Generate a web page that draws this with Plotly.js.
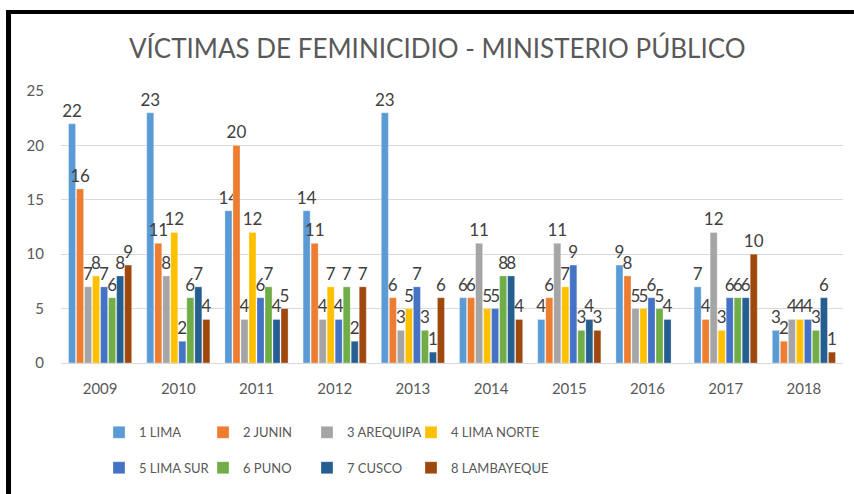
<!DOCTYPE html>
<html>
<head>
<meta charset="utf-8">
<script src="https://cdn.plot.ly/plotly-3.0.1.min.js"></script>
<style>html,body{margin:0;padding:0;background:#fff;overflow:hidden;}#chart{width:854px;height:494px;overflow:hidden;}</style>
</head>
<body>
<div id="chart"></div>
<script>
const years = ['2009','2010','2011','2012','2013','2014','2015','2016','2017','2018'];
const seriesNames = ['1 LIMA','2 JUNIN','3 AREQUIPA','4 LIMA NORTE','5 LIMA SUR','6 PUNO','7 CUSCO','8 LAMBAYEQUE'];
const lima        = [22, 23, 14, 14, 23, 6, 4, 9, 7, 3];
const junin       = [16, 11, 20, 11, 6, 6, 6, 8, 4, 2];
const arequipa    = [7, 8, 4, 4, 3, 11, 11, 5, 12, 4];
const limaNorte   = [8, 12, 12, 7, 5, 5, 7, 5, 3, 4];
const limaSur     = [7, 2, 6, 4, 7, 5, 9, 6, 6, 4];
const puno        = [6, 6, 7, 7, 3, 8, 3, 5, 6, 3];
const cusco       = [8, 7, 4, 2, 1, 8, 4, 4, 6, 6];
const lambayeque  = [9, 4, 5, 7, 6, 4, 3, null, 10, 1];
const colors = ['#5B9BD5','#ED7D31','#A5A5A5','#FFC000','#4472C4','#70AD47','#255E91','#9E480E'];

const allSeries = [lima, junin, arequipa, limaNorte, limaSur, puno, cusco, lambayeque];
const FONT = 'Lato, "Open Sans", sans-serif';

const traces = allSeries.map((vals, i) => ({
  type: 'bar',
  name: seriesNames[i],
  x: years,
  y: vals,
  text: vals.map(v => v === null ? '' : String(v)),
  textposition: 'outside',
  constraintext: 'none',
  cliponaxis: false,
  textfont: {family: FONT, size: 17, color: '#404040'},
  marker: {color: colors[i], line: {color: 'rgba(255,255,255,0.6)', width: 0.5}},
  legend: i < 4 ? 'legend' : 'legend2',
  hoverinfo: 'x+y+name'
}));

// invisible spacer entries so the last legend column is not clipped
['legend', 'legend2'].forEach(lg => {
  traces.push({
    type: 'scatter', mode: 'markers', x: [null], y: [null], name: ' ',
    marker: {opacity: 0}, legend: lg, showlegend: true, hoverinfo: 'skip'
  });
});

const legendCommon = {
  orientation: 'h',
  xanchor: 'left',
  yanchor: 'top',
  entrywidth: 59, entrywidthmode: 'pixels',
  font: {family: FONT, size: 13, color: '#595959'},
  itemwidth: 30,
  bgcolor: 'rgba(0,0,0,0)'
};

const layout = {
  width: 854,
  height: 494,
  margin: {l: 61, r: 11, t: 91, b: 131},
  paper_bgcolor: '#ffffff',
  plot_bgcolor: '#ffffff',
  barmode: 'group',
  bargap: 0.18,
  bargroupgap: 0.12,
  title: {
    text: 'VÍCTIMAS DE FEMINICIDIO - MINISTERIO PÚBLICO',
    font: {family: FONT, size: 26, color: '#595959'},
    x: 0.512, xanchor: 'center', y: 0.902, yanchor: 'middle'
  },
  xaxis: {
    type: 'category',
    showgrid: false,
    showline: true,
    linecolor: '#D9D9D9',
    linewidth: 1,
    ticks: '',
    ticklabelstandoff: 12,
    tickfont: {family: FONT, size: 15, color: '#595959'},
    zeroline: false
  },
  yaxis: {
    range: [0, 25],
    dtick: 5,
    showgrid: true,
    gridcolor: '#D9D9D9',
    gridwidth: 1,
    zeroline: false,
    showline: false,
    ticks: '',
    ticklabelstandoff: 16,
    tickfont: {family: FONT, size: 15, color: '#595959'},
    title: {text: ''}
  },
  legend: Object.assign({}, legendCommon, {x: 0.0486, y: -0.2}),
  legend2: Object.assign({}, legendCommon, {x: 0.0486, y: -0.33}),
  shapes: [
    {type: 'line', xref: 'paper', yref: 'paper', x0: -0.0671, x1: -0.0671, y0: 1.2923, y1: -0.55, line: {color: '#000000', width: 5}},
    {type: 'line', xref: 'paper', yref: 'paper', x0: -0.0703, x1: 1.014, y0: 1.2905, y1: 1.2905, line: {color: '#000000', width: 4}}
  ]
};

Plotly.newPlot('chart', traces, layout, {displayModeBar: false, staticPlot: true});
</script>
</body>
</html>
